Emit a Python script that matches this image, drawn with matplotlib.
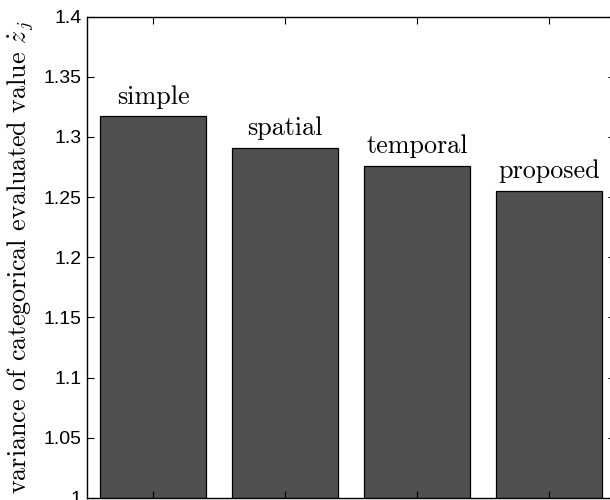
import numpy as np
import matplotlib
matplotlib.use('Agg')
import matplotlib.pyplot as plt

# 各手法のカテゴリ別評価値の分散
methods = ['simple', 'spatial', 'temporal', 'proposed']
variances = [1.317, 1.291, 1.276, 1.255]
yticks = [1, 1.05, 1.1, 1.15, 1.2, 1.25, 1.3, 1.35, 1.4]
ytick_labels = ['1', '1.05', '1.1', '1.15', '1.2', '1.25', '1.3', '1.35', '1.4']

plt.rcParams['mathtext.fontset'] = 'cm'
plt.rcParams['axes.unicode_minus'] = False

fig = plt.figure(figsize=(6.1, 5.0), dpi=100)
# MATLAB風の図の一部が切れた状態を再現
ax = fig.add_axes([87 / 610, 2 / 500, 528 / 610, 481.5 / 500])

x = np.arange(1, len(methods) + 1)
ax.bar(x, variances, width=0.8, color='#505050', edgecolor='black', linewidth=0.9)

for xi, v, name in zip(x, variances, methods):
    ax.text(xi, v + 0.0105, name, ha='center', va='baseline',
            fontsize=18.8, family='cmr10')

ax.set_xlim(0.5, 4.5)
ax.set_ylim(1, 1.4)
ax.set_xticks(x)
ax.set_xticklabels([])
ax.set_yticks(yticks)
ax.set_yticklabels(ytick_labels)

ax.tick_params(direction='in', length=5, width=0.8, top=True, right=True, pad=4,
               labelsize=14, labelfontfamily='Liberation Sans')
for s in ax.spines.values():
    s.set_linewidth(1.0)

ax.set_ylabel(r'variance of categorical evaluated value $\dot{z}_j$',
              family='cmr10', fontsize=18.8, labelpad=6)

fig.savefig('out.png', dpi=100)
